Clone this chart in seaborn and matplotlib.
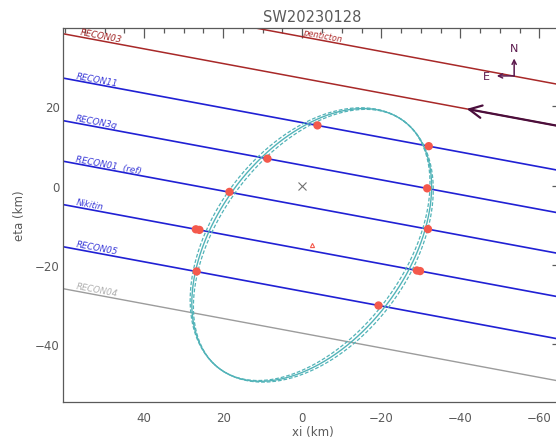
import numpy as np
import pandas as pd
import matplotlib
matplotlib.use("Agg")
import matplotlib.pyplot as plt
import seaborn as sns
from matplotlib.ticker import MultipleLocator, FixedLocator

# ---------------- data ----------------
title = "SW20230128"
chord_names = ["penticton", "RECON03", "RECON11", "RECON3g", "RECON01  (ref)",
               "Nikitin", "RECON05", "RECON04"]
chord_eta0 = [37.6, 27.1, 15.9, 5.15, -5.1, -16.05, -26.7, -37.3]   # eta at xi = 0 (km)
chord_slope = 0.186                                                   # d eta / d xi
label_xi = [0.0, 56.4, 57.4, 57.4, 57.4, 57.4, 57.4, 57.4]

event_xi = [-3.85, -32.0, 8.8, -31.6, 18.4, -31.8, 26.9, 26.0, -29.0, -29.8, 26.7, -19.3]
event_eta = [15.2, 9.95, 6.8, -0.7, -1.6, -11.0, -11.05, -11.2, -21.45, -21.6, -21.7, -30.3]

ell_center = (-2.4, -15.0)
ell_major = 39.0
ell_minor = 24.2
ell_angle = 126.7      # degrees, from +xi towards +eta
ell_minor_err = 0.8

xlim = (60.5, -65.7)
ylim = (-54.6, 39.8)
xticks = [40, 20, 0, -20, -40, -60]
yticks = [20, 0, -20, -40]

# ---------------- style ----------------
red = "#a82828"
blue = "#2020d4"
grey_line = "#9c9c9c"
chord_colors = [red, red, blue, blue, blue, blue, blue, grey_line]
label_colors = ["#b03030", "#a02525", "#3a3ad8", "#3a3ad8", "#3a3ad8", "#3a3ad8", "#3a3ad8", "#b0b0b0"]
chord_lw = [1.1, 1.1, 1.2, 1.2, 1.2, 1.2, 1.2, 1.0]
axis_grey = "#5a5a5a"
cyan = "#52b3b8"
dot_red = "#f4594c"
purple = "#5c1a4e"

sns.set_style("white")
plt.rcParams["font.family"] = ["DejaVu Sans"]

fig = plt.figure(figsize=(5.56, 4.39), dpi=100)
ax = fig.add_axes([63 / 556, 1 - 402.7 / 439, (562 - 63) / 556, (402.7 - 29) / 439])

# chords
rows = []
for name, e0 in zip(chord_names, chord_eta0):
    for xi in xlim:
        rows.append({"chord": name, "xi": xi, "eta": e0 + chord_slope * xi})
chords = pd.DataFrame(rows)
for name, col, lw in zip(chord_names, chord_colors, chord_lw):
    sub = chords[chords["chord"] == name]
    sns.lineplot(data=sub, x="xi", y="eta", color=col, lw=lw, ax=ax,
                 estimator=None, sort=False, legend=False)

# chord labels
rot = -np.degrees(np.arctan(chord_slope))
for name, e0, lx, col in zip(chord_names, chord_eta0, label_xi, label_colors):
    fs = 6.3 if name != "penticton" else 6.0
    ax.text(lx, e0 + chord_slope * lx + 0.2, name, color=col, fontsize=fs, style="italic",
            rotation=rot, rotation_mode="anchor", ha="left", va="bottom")

# ellipse (nominal + uncertainty)
t = np.linspace(0, 2 * np.pi, 400)
phi = np.radians(ell_angle)
def ellipse(a, b):
    x = ell_center[0] + a * np.cos(t) * np.cos(phi) - b * np.sin(t) * np.sin(phi)
    y = ell_center[1] + a * np.cos(t) * np.sin(phi) + b * np.sin(t) * np.cos(phi)
    return pd.DataFrame({"xi": x, "eta": y, "order": np.arange(len(t))})

for db, ls, lw in [(-ell_minor_err, (0, (3, 1.5)), 0.9), (ell_minor_err, (0, (3, 1.5)), 0.9), (0, "-", 1.0)]:
    df = ellipse(ell_major, ell_minor + db)
    sns.lineplot(data=df, x="xi", y="eta", sort=False, estimator=None, color=cyan,
                 lw=lw, linestyle=ls, ax=ax, legend=False)

# event points
ev = pd.DataFrame({"xi": event_xi, "eta": event_eta})
sns.scatterplot(data=ev, x="xi", y="eta", color=dot_red, s=36, edgecolor="none", ax=ax, zorder=5)

# reference marks
ax.plot(0, 0, marker="x", color="#707070", ms=6, mew=0.8, ls="none")
ax.plot(*ell_center, marker="^", mfc="none", mec=dot_red, ms=3, mew=0.8, ls="none")

# direction-of-motion arrow on RECON03
tip_xi, tail_xi = -41.6, -66.0
e03 = chord_eta0[1]
ax.annotate("", xy=(tip_xi, e03 + chord_slope * tip_xi),
            xytext=(tail_xi, e03 + chord_slope * tail_xi),
            arrowprops=dict(arrowstyle="->,head_length=0.9,head_width=0.45",
                            color="#4a0e3c", lw=1.6, shrinkA=0, shrinkB=0))

# compass
cx, cy, L = -53.6, 27.7, 4.4
ax.annotate("", xy=(cx, cy + L), xytext=(cx, cy),
            arrowprops=dict(arrowstyle="->,head_length=0.3,head_width=0.15", color=purple, lw=1.1,
                            shrinkA=0, shrinkB=0))
ax.annotate("", xy=(cx + L, cy), xytext=(cx, cy),
            arrowprops=dict(arrowstyle="->,head_length=0.3,head_width=0.15", color=purple, lw=1.1,
                            shrinkA=0, shrinkB=0))
ax.text(cx, cy + 7.0, "N", color=purple, fontsize=8, ha="center", va="center")
ax.text(cx + 7.0, cy - 0.1, "E", color=purple, fontsize=8, ha="center", va="center")

# axes
ax.set_xlim(*xlim)
ax.set_ylim(*ylim)
ax.xaxis.set_major_locator(FixedLocator(xticks))
ax.yaxis.set_major_locator(FixedLocator(yticks))
ax.xaxis.set_minor_locator(MultipleLocator(5))
ax.yaxis.set_minor_locator(MultipleLocator(5))
ax.tick_params(which="both", direction="in", top=True, right=True, colors=axis_grey,
               labelcolor=axis_grey, width=0.9)
ax.tick_params(which="major", length=7.2, labelsize=8.5)
ax.tick_params(which="minor", length=3.6)
ax.tick_params(axis="x", pad=6.5)
ax.tick_params(axis="y", pad=2.5)
for s in ax.spines.values():
    s.set_color(axis_grey)
    s.set_linewidth(0.9)
ax.set_xlabel("xi (km)", fontsize=8.5, color=axis_grey, labelpad=1)
ax.set_ylabel("eta (km)", fontsize=8.5, color=axis_grey, labelpad=6)
ax.set_title(title, fontsize=10.5, color=axis_grey, pad=5)

fig.savefig("out.png", dpi=100)
